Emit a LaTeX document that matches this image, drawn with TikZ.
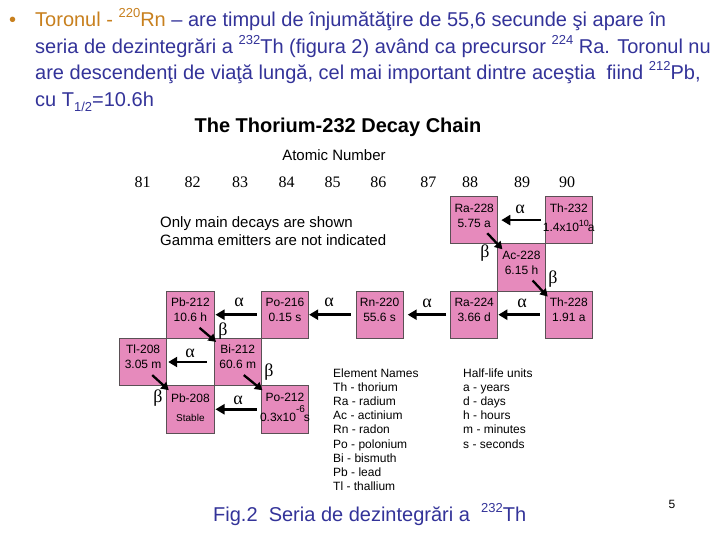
\documentclass[tikz,border=0pt]{standalone}
\usepackage{fontspec}
\setmainfont{Liberation Sans}
\newfontfamily\serifgr{Liberation Serif}
\usetikzlibrary{arrows.meta,calc}
\definecolor{navy}{RGB}{51,51,153}
\definecolor{orng}{RGB}{200,128,30}
\definecolor{pinkbox}{RGB}{230,138,188}
\definecolor{boxline}{RGB}{90,80,85}
\newcommand\supx[1]{\raisebox{0.45em}{\fontsize{13}{13}\selectfont #1}}
\newcommand\subx[1]{\raisebox{-0.25em}{\fontsize{13}{13}\selectfont #1}}
\begin{document}
\begin{tikzpicture}[x=1pt,y=-1pt,
 box/.style={draw=boxline,fill=pinkbox,line width=0.9pt,minimum width=47.3pt,minimum height=47.3pt,inner sep=0pt,anchor=north west},
 btxt/.style={font=\fontsize{12}{12}\selectfont,anchor=base,inner sep=0pt},
 aarrow/.style={line width=2.6pt,-{Triangle[length=9pt,width=10pt]}},
 barrow/.style={line width=2.3pt,-{Triangle[length=7.5pt,width=8.5pt]}},
 greek/.style={font=\serifgr\fontsize{18}{18}\selectfont,anchor=base,inner sep=0pt},
 numlab/.style={font=\serifgr\fontsize{16}{16}\selectfont,anchor=base,inner sep=0pt},
 toptxt/.style={font=\fontsize{20}{20}\selectfont,text=navy,anchor=base west,inner sep=0pt},
 leg/.style={font=\fontsize{12}{12}\selectfont,anchor=base west,inner sep=0pt},
]
\useasboundingbox[fill=white] (0,0) rectangle (720,540);

% top text
\node[anchor=base west,inner sep=0pt,text=orng,font=\fontsize{20}{20}\selectfont] (bul) at (9,27) {•};
\node[toptxt] (l1) at (35,27) {{\color{orng}Toronul - \supx{220}Rn} – are timpul de înjumătăţire de 55,6 secunde şi apare în};
\node[toptxt] (l2) at (35,53.5) {seria de dezintegrări a \supx{232}Th (figura 2) având ca precursor \supx{224} Ra. Toronul nu};
\node[toptxt] (l3) at (35,80) {are descendenţi de viaţă lungă, cel mai important dintre aceştia\ \ fiind \supx{212}Pb,};
\node[toptxt] (l4) at (35,106.5) {cu T\subx{1/2}=10.6h};

% title
\node[anchor=base,inner sep=0pt,font=\bfseries\fontsize{20}{20}\selectfont] (title) at (338,133) {The Thorium-232 Decay Chain};
\node[anchor=base,inner sep=0pt,font=\fontsize{15}{15}\selectfont] (atnum) at (334,161) {Atomic Number};

\node[numlab] (z81) at (142.7,188) {81};
\node[numlab] (z82) at (192.7,188) {82};
\node[numlab] (z83) at (240,188) {83};
\node[numlab] (z84) at (286.7,188) {84};
\node[numlab] (z85) at (332.7,188) {85};
\node[numlab] (z86) at (378.3,188) {86};
\node[numlab] (z87) at (428.3,188) {87};
\node[numlab] (z88) at (470,188) {88};
\node[numlab] (z89) at (522,188) {89};
\node[numlab] (z90) at (567,188) {90};

\node[anchor=base west,inner sep=0pt,font=\fontsize{15}{15}\selectfont] (note1) at (160,227) {Only main decays are shown};
\node[anchor=base west,inner sep=0pt,font=\fontsize{15}{15}\selectfont] (note2) at (160,245) {Gamma emitters are not indicated};

% boxes
\node[box] (th232) at (544.7,196) {};
\node[box] (ra228) at (450.1,196) {};
\node[box] (ac228) at (497.4,243.3) {};
\node[box] (th228) at (544.7,290.6) {};
\node[box] (ra224) at (450.1,290.6) {};
\node[box] (rn220) at (355.5,290.6) {};
\node[box] (po216) at (260.9,290.6) {};
\node[box] (pb212) at (166.3,290.6) {};
\node[box] (bi212) at (213.6,337.9) {};
\node[box] (tl208) at (119,337.9) {};
\node[box] (pb208) at (166.3,385.2) {};
\node[box] (po212) at (260.9,385.2) {};

% box texts
\node[btxt] (th232n) at ($(th232.north)+(0,16)$) {Th-232};
\node[btxt] (th232v) at ($(th232.north)+(0,35)$) {1.4x10\raisebox{5pt}{\fontsize{9}{9}\selectfont 10}\kern-1pt a};
\node[btxt] (ra228n) at ($(ra228.north)+(0,16)$) {Ra-228};
\node[btxt] (ra228v) at ($(ra228.north)+(0,31)$) {5.75 a};
\node[btxt] (ac228n) at ($(ac228.north)+(0,16)$) {Ac-228};
\node[btxt] (ac228v) at ($(ac228.north)+(0,31)$) {6.15 h};
\node[btxt] (th228n) at ($(th228.north)+(0,16)$) {Th-228};
\node[btxt] (th228v) at ($(th228.north)+(0,31)$) {1.91 a};
\node[btxt] (ra224n) at ($(ra224.north)+(0,16)$) {Ra-224};
\node[btxt] (ra224v) at ($(ra224.north)+(0,31)$) {3.66 d};
\node[btxt] (rn220n) at ($(rn220.north)+(0,16)$) {Rn-220};
\node[btxt] (rn220v) at ($(rn220.north)+(0,31)$) {55.6 s};
\node[btxt] (po216n) at ($(po216.north)+(0,16)$) {Po-216};
\node[btxt] (po216v) at ($(po216.north)+(0,31)$) {0.15 s};
\node[btxt] (pb212n) at ($(pb212.north)+(0,16)$) {Pb-212};
\node[btxt] (pb212v) at ($(pb212.north)+(0,31)$) {10.6 h};
\node[btxt] (bi212n) at ($(bi212.north)+(0,16)$) {Bi-212};
\node[btxt] (bi212v) at ($(bi212.north)+(0,31)$) {60.6 m};
\node[btxt] (tl208n) at ($(tl208.north)+(0,16)$) {Tl-208};
\node[btxt] (tl208v) at ($(tl208.north)+(0,31)$) {3.05 m};
\node[btxt] (pb208n) at ($(pb208.north)+(0,17)$) {Pb-208};
\node[btxt,font=\fontsize{10}{10}\selectfont] (pb208v) at ($(pb208.north)+(0,36)$) {Stable};
\node[btxt] (po212n) at ($(po212.north)+(0,16)$) {Po-212};
\node[btxt] (po212v) at ($(po212.north)+(0,36)$) {0.3x10\raisebox{9pt}{\fontsize{10}{10}\selectfont -6}\kern-1pt s};

% alpha decays
\draw[aarrow] ([xshift=-4pt]th232.west) -- ([xshift=3pt]ra228.east);
\draw[aarrow] ([xshift=-5pt]th228.west) -- ([xshift=0pt]ra224.east);
\draw[aarrow] ([xshift=-4pt]ra224.west) -- ([xshift=4pt]rn220.east);
\draw[aarrow] ([xshift=-5pt]rn220.west) -- ([xshift=0pt]po216.east);
\draw[aarrow] ([xshift=-4pt]po216.west) -- ([xshift=1pt]pb212.east);
\draw[aarrow] ([xshift=-7pt]bi212.west) -- ([xshift=1pt]tl208.east);
\draw[aarrow] ([xshift=-4pt]po212.west) -- ([xshift=1pt]pb208.east);

\node[greek] (a1) at (520,214) {α};
\node[greek] (a2) at (522,307) {α};
\node[greek] (a3) at (427,307) {α};
\node[greek] (a4) at (329,306) {α};
\node[greek] (a5) at (239,306) {α};
\node[greek] (a6) at (190,357) {α};
\node[greek] (a7) at (238,404) {α};

% beta decays
\draw[barrow] ([shift={(-11,-11)}]ra228.south east) -- ([shift={(5,6)}]ac228.north west);
\draw[barrow] ([shift={(-13,-11)}]ac228.south east) -- ([shift={(3,6)}]th228.north west);
\draw[barrow] ([shift={(-15,-11)}]pb212.south east) -- ([shift={(2.5,4)}]bi212.north west);
\draw[barrow] ([shift={(-15,-11)}]tl208.south east) -- ([shift={(2.5,5)}]pb208.north west);
\draw[barrow] ([shift={(-18,-11)}]bi212.south east) -- ([shift={(1.5,5)}]po212.north west);

\node[greek] (b1) at (485,258) {β};
\node[greek] (b2) at (553,283) {β};
\node[greek] (b3) at (223,335) {β};
\node[greek] (b4) at (269,376) {β};
\node[greek] (b5) at (158,402) {β};

% legend
\node[leg] (e0) at (333,377) {Element Names};
\node[leg] (e1) at (333,391.2) {Th - thorium};
\node[leg] (e2) at (333,405.4) {Ra - radium};
\node[leg] (e3) at (333,419.6) {Ac - actinium};
\node[leg] (e4) at (333,433.8) {Rn - radon};
\node[leg] (e5) at (333,448) {Po - polonium};
\node[leg] (e6) at (333,462.2) {Bi - bismuth};
\node[leg] (e7) at (333,476.4) {Pb - lead};
\node[leg] (e8) at (333,490.6) {Tl - thallium};

\node[leg] (h0) at (463,377) {Half-life units};
\node[leg] (h1) at (463,391.2) {a - years};
\node[leg] (h2) at (463,405.4) {d - days};
\node[leg] (h3) at (463,419.6) {h - hours};
\node[leg] (h4) at (463,433.8) {m - minutes};
\node[leg] (h5) at (463,448) {s - seconds};

% caption
\node[toptxt] (cap) at (213,521) {Fig.2\ \ Seria de dezintegrări a\ \ \supx{232}Th};
\node[anchor=base,inner sep=0pt,font=\fontsize{12}{12}\selectfont] (pg) at (672,508) {5};
\end{tikzpicture}
\end{document}
